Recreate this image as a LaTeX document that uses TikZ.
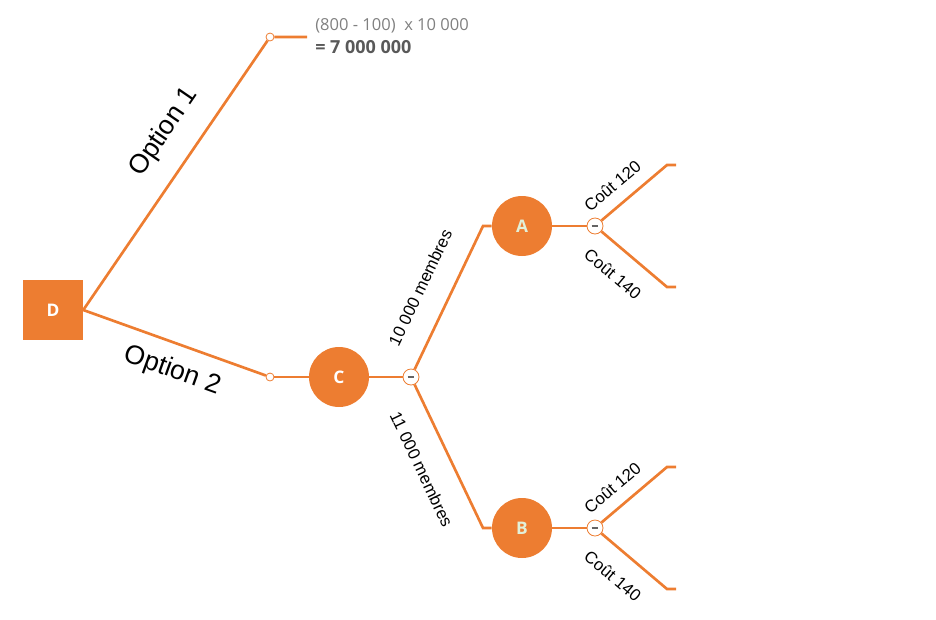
\documentclass[tikz,border=0pt]{standalone}
\usepackage{fontspec}
\setmainfont{Liberation Sans}
\newfontfamily\opensans{Open Sans}
\usetikzlibrary{positioning}
\definecolor{treeorange}{RGB}{237,125,49}
\definecolor{lettergreen}{RGB}{226,240,217}
\definecolor{valgray}{RGB}{128,128,128}
\definecolor{totalgray}{RGB}{89,89,89}
\definecolor{dashgray}{RGB}{100,100,100}
\begin{document}
\begin{tikzpicture}[x=0.75pt, y=-0.75pt,
  branch/.style={draw=treeorange, line width=2pt},
  decision/.style={fill=treeorange, minimum size=45pt, inner sep=0pt, text=white, font=\opensans\bfseries\fontsize{13}{15}\selectfont},
  chance/.style={circle, fill=treeorange, minimum size=45pt, inner sep=0pt, font=\opensans\bfseries\fontsize{13}{15}\selectfont},
  endpt/.style={circle, draw=treeorange, fill=white, line width=0.6pt, minimum size=6pt, inner sep=0pt},
  minus/.style={circle, draw=treeorange, fill=white, line width=0.6pt, minimum size=12pt, inner sep=0pt},
  optlabel/.style={font=\fontsize{20}{22}\selectfont, inner sep=0pt},
  brlabel/.style={font=\fontsize{12.6}{15}\selectfont, inner sep=0pt}]
\useasboundingbox (0,0) rectangle (936,619);

% decision and chance nodes
\node[decision] (d) at (53,310) {D};
\node[endpt] (e1) at (270,37) {};
\coordinate (t1) at (307,37);
\node[endpt] (e2) at (270,377) {};
\node[chance, text=white] (c) at (339,377) {C};
\node[minus] (m1) at (411,377) {\color{dashgray}\rule{5pt}{1.1pt}};
\coordinate (ka) at (483,226);
\coordinate (kb) at (483,528);
\node[chance, text=lettergreen] (a) at (522,226) {A};
\node[chance, text=lettergreen] (b) at (522,528) {B};
\node[minus] (ma) at (595,226) {\color{dashgray}\rule{5pt}{1.1pt}};
\node[minus] (mb) at (595,528) {\color{dashgray}\rule{5pt}{1.1pt}};
\coordinate (ka1) at (667,165); \coordinate (ta1) at (676,165);
\coordinate (ka2) at (667,287); \coordinate (ta2) at (676,287);
\coordinate (kb1) at (667,467); \coordinate (tb1) at (676,467);
\coordinate (kb2) at (667,589); \coordinate (tb2) at (676,589);

% result of option 1
\node[anchor=west, align=left, inner sep=0pt, font=\opensans\fontsize{12.4}{17}\selectfont] (val) at (315,36)
  {\textcolor{valgray}{(800 - 100)\ \ x 10 000}\\ \textcolor{totalgray}{\fontsize{13.5}{17}\selectfont\bfseries = 7 000 000}};

% branches
\draw[branch] (d.east) -- node[optlabel, pos=0.59, sloped, above=15pt] {Option 1} (e1) -- (t1);
\draw[branch] (d.east) -- node[optlabel, pos=0.54, sloped, below=10pt] {Option 2} (e2);
\draw[branch] (e2) -- (c) -- (m1);
\draw[branch] (m1) -- node[brlabel, pos=0.48, sloped, above=17pt] {10 000 membres} (ka) -- (a);
\draw[branch] (m1) -- node[brlabel, pos=0.5, sloped, below=17pt] {11 000 membres} (kb) -- (b);
\draw[branch] (a) -- (ma);
\draw[branch] (b) -- (mb);
\draw[branch] (ma) -- node[brlabel, pos=0.36, sloped, above=9pt] {Coût 120} (ka1) -- (ta1);
\draw[branch] (ma) -- node[brlabel, pos=0.42, sloped, below=13pt] {Coût 140} (ka2) -- (ta2);
\draw[branch] (mb) -- node[brlabel, pos=0.36, sloped, above=9pt] {Coût 120} (kb1) -- (tb1);
\draw[branch] (mb) -- node[brlabel, pos=0.42, sloped, below=13pt] {Coût 140} (kb2) -- (tb2);
\end{tikzpicture}
\end{document}
